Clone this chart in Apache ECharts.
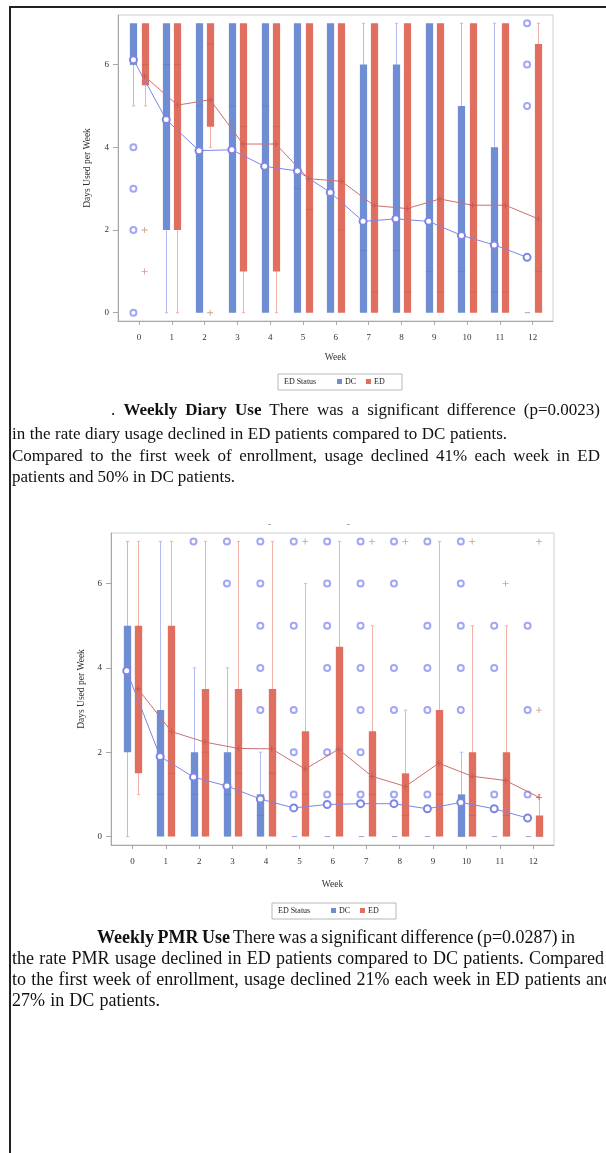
<!DOCTYPE html>
<html><head><meta charset="utf-8">
<script src="https://cdn.jsdelivr.net/npm/echarts@6/dist/echarts.min.js"></script>
<style>
html,body{margin:0;padding:0;background:#fff;overflow:hidden}
#wrap{position:relative;width:606px;height:1153px;overflow:hidden}
#c{position:absolute;left:0;top:0;width:606px;height:1153px}
.ln{position:absolute;white-space:nowrap;font-family:"Liberation Serif","Times New Roman",serif;line-height:22px;color:#111}
.t{font-size:17px}
.b{font-size:18px}
</style>
</head><body><div id="wrap"><div id="c"></div>
<div class="ln t" data-w="489" style="left:111px;top:399px"><span>. <b>Weekly Diary Use</b> There was a significant difference (p=0.0023)</span></div>
<div class="ln t" data-w="495" style="left:12px;top:423px"><span>in the rate diary usage declined in ED patients compared to DC patients.</span></div>
<div class="ln t" data-w="588" style="left:12px;top:445px"><span>Compared to the first week of enrollment, usage declined 41% each week in ED</span></div>
<div class="ln t" data-w="223" style="left:12px;top:466px"><span>patients and 50% in DC patients.</span></div>
<div class="ln b" data-w="478" style="left:97px;top:926px"><span><b>Weekly PMR Use</b> There was a significant difference (p=0.0287) in</span></div>
<div class="ln b" data-w="592" style="left:12px;top:947px"><span>the rate PMR usage declined in ED patients compared to DC patients. Compared</span></div>
<div class="ln b" data-w="600" style="left:12px;top:968px"><span>to the first week of enrollment, usage declined 21% each week in ED patients and</span></div>
<div class="ln b" data-w="148" style="left:12px;top:989px"><span>27% in DC patients.</span></div>
</div>
<script>
const weeks = [0,1,2,3,4,5,6,7,8,9,10,11,12];
const yTicks = [0,2,4,6];
// box stats per week: [min, q1, median, q3, max]
const diaryDC = [[5,6,6,7,7],[0,2,6,7,7],[0,0,5,7,7],[0,0,5,7,7],[0,0,5,7,7],[0,0,3,7,7],[0,0,3,7,7],[0,0,1.5,6,7],[0,0,1.5,6,7],[0,0,1,7,7],[0,0,1,5,7],[0,0,0.5,4,7],[0,0,0,0,0]];
const diaryED = [[5,5.5,6,7,7],[0,2,6,7,7],[4,4.5,6.5,7,7],[0,1,4.5,7,7],[0,1,4.5,7,7],[0,0,2.5,7,7],[0,0,2,7,7],[0,0,0.5,7,7],[0,0,0.5,7,7],[0,0,0.5,7,7],[0,0,0.5,7,7],[0,0,0.5,7,7],[0,0,1,6.5,7]];
const diaryDCMean = [6.12,4.67,3.92,3.94,3.54,3.43,2.91,2.21,2.27,2.21,1.87,1.64,1.34];
const diaryEDMean = [5.72,5.02,5.15,4.08,4.08,3.24,3.18,2.59,2.52,2.75,2.6,2.6,2.27];
const diaryDCOut = [[0,4],[0,3],[0,2],[0,0],[12,7],[12,6],[12,5]];
const diaryEDOut = [[0,2],[0,1],[2,0]];

const pmrDC = [[0,2,4,5,7],[0,0,1,3,7],[0,0,1,2,4],[0,0,1,2,4],[0,0,0.5,1,2],[0,0,0,0,0],[0,0,0,0,0],[0,0,0,0,0],[0,0,0,0,0],[0,0,0,0,0],[0,0,0,1,2],[0,0,0,0,0],[0,0,0,0,0]];
const pmrED = [[1,1.5,3.5,5,7],[0,0,1.5,5,7],[0,0,2,3.5,7],[0,0,1.5,3.5,7],[0,0,1.5,3.5,7],[0,0,1,2.5,6],[0,0,1,4.5,7],[0,0,1,2.5,5],[0,0,0.5,1.5,3],[0,0,1,3,7],[0,0,0.5,2,5],[0,0,0.5,2,5],[0,0,0,0.5,1]];
const pmrDCMean = [3.93,1.90,1.41,1.20,0.89,0.68,0.76,0.78,0.78,0.66,0.81,0.66,0.44];
const pmrEDMean = [3.50,2.49,2.24,2.09,2.08,1.60,2.07,1.43,1.19,1.74,1.43,1.33,0.93];
const pmrDCOut = [[2,7],[3,7],[3,6],[4,7],[4,6],[4,5],[4,4],[4,3],[5,7],[5,5],[5,3],[5,2],[5,1],[6,7],[6,6],[6,5],[6,4],[6,2],[6,1],[7,7],[7,6],[7,5],[7,4],[7,3],[7,2],[7,1],[8,7],[8,6],[8,4],[8,3],[8,1],[9,7],[9,5],[9,4],[9,3],[9,1],[10,7],[10,6],[10,5],[10,4],[10,3],[11,5],[11,4],[11,1],[12,5],[12,3],[12,1]];
const pmrEDOut = [[5,7],[7,7],[8,7],[10,7],[11,6],[12,7],[12,3]];

// justify each text line to its measured width
document.querySelectorAll('.ln').forEach(el=>{
  const sp = el.querySelector('span');
  const target = +el.dataset.w;
  const nat = sp.getBoundingClientRect().width;
  const n = (sp.textContent.match(/ /g)||[]).length;
  if (n>0) el.style.wordSpacing = ((target-nat)/n).toFixed(2)+'px';
});

const OFF = 0.17;
const PLUS = 'path://M4.3 0h1.4v4.3H10v1.4H5.7V10H4.3V5.7H0V4.3h4.3z';
const DCc = {box:'#6f8dd3', whisker:'#b4bcf2', median:'#5b76bd', flat:'#9aa4d8'};
const EDc = {box:'#e06f5f', whisker:'#f2b0a8', median:'#c25848', flat:'#d99'};
const serif = '"Liberation Serif","Times New Roman",serif';

function boxRender(c){
  return function(params, api){
    const x=api.value(0), lo=api.value(1), q1=api.value(2), med=api.value(3), q3=api.value(4), hi=api.value(5);
    const bw=api.size([0.22,0])[0], cw=api.size([0.1,0])[0];
    const pLo=api.coord([x,lo]), pQ1=api.coord([x,q1]), pMed=api.coord([x,med]), pQ3=api.coord([x,q3]), pHi=api.coord([x,hi]);
    const cx=Math.round(pLo[0])+0.5;
    const ch=[];
    if (hi>lo) {
      ch.push({type:'line',shape:{x1:cx,y1:pHi[1],x2:cx,y2:pLo[1]},style:{stroke:c.whisker,lineWidth:1}});
      if (hi>q3) ch.push({type:'line',shape:{x1:cx-cw/2,y1:pHi[1],x2:cx+cw/2,y2:pHi[1]},style:{stroke:c.whisker,lineWidth:1}});
      if (lo<q1) ch.push({type:'line',shape:{x1:cx-cw/2,y1:pLo[1],x2:cx+cw/2,y2:pLo[1]},style:{stroke:c.whisker,lineWidth:1}});
    }
    if (q3>q1) {
      ch.push({type:'rect',shape:{x:cx-bw/2,y:pQ3[1],width:bw,height:pQ1[1]-pQ3[1]},style:{fill:c.box}});
      ch.push({type:'line',shape:{x1:cx-bw/2,y1:pMed[1],x2:cx+bw/2,y2:pMed[1]},style:{stroke:c.median,lineWidth:1,opacity:0.45}});
    } else {
      ch.push({type:'line',shape:{x1:cx-bw/2+1,y1:pQ1[1],x2:cx+bw/2-1,y2:pQ1[1]},style:{stroke:c.flat,lineWidth:1}});
    }
    return {type:'group',children:ch};
  };
}

function seriesFor(g, dcB, edB, dcM, edM, dcO, edO){
  const mk = (arr,off)=>arr.map((s,i)=>[weeks[i]+off].concat(s));
  return [
    {type:'custom',xAxisIndex:g,yAxisIndex:g,renderItem:boxRender(DCc),data:mk(dcB,-OFF),encode:{x:0,y:[1,2,3,4,5]},z:2},
    {type:'custom',xAxisIndex:g,yAxisIndex:g,renderItem:boxRender(EDc),data:mk(edB,OFF),encode:{x:0,y:[1,2,3,4,5]},z:2},
    {type:'scatter',xAxisIndex:g,yAxisIndex:g,data:dcO.map(p=>[p[0]-OFF,p[1]]),symbol:'emptyCircle',symbolSize:6,itemStyle:{color:'#8a90f2',borderWidth:0.9},z:4,silent:true},
    {type:'scatter',xAxisIndex:g,yAxisIndex:g,data:edO.map(p=>[p[0]+OFF,p[1]]),symbol:PLUS,symbolSize:6,itemStyle:{color:'#c9826f'},z:4,silent:true},
    {type:'line',xAxisIndex:g,yAxisIndex:g,data:dcM.map((v,i)=>[weeks[i]-OFF,v]),symbol:'emptyCircle',symbolSize:7,showAllSymbol:true,lineStyle:{color:'#7d86e6',width:1},itemStyle:{color:'#7d86e6',borderWidth:0.9},z:5,silent:true},
    {type:'line',xAxisIndex:g,yAxisIndex:g,data:edM.map((v,i)=>[weeks[i]+OFF,v]),symbol:PLUS,symbolSize:6,showAllSymbol:true,lineStyle:{color:'#cf6f6f',width:1},itemStyle:{color:'#c05a5a'},z:5,silent:true}
  ];
}

function xAx(g, gap){
  return {type:'value',gridIndex:g,min:-0.64,max:12.62,splitLine:{show:false},
    axisLine:{onZero:false,lineStyle:{color:'#a8a8a8'}},
    axisTick:{customValues:weeks,length:4,lineStyle:{color:'#a8a8a8'}},
    axisLabel:{customValues:weeks,margin:12,fontFamily:serif,fontSize:9,color:'#333'},
    name:'Week',nameLocation:'middle',nameGap:gap,nameTextStyle:{fontFamily:serif,fontSize:9.5,color:'#333'}};
}
function yAx(g, gap){
  return {type:'value',gridIndex:g,min:-0.2,max:7.2,splitLine:{show:false},
    axisLine:{show:true,onZero:false,lineStyle:{color:'#a8a8a8'}},
    axisTick:{show:true,customValues:yTicks,length:5,lineStyle:{color:'#a8a8a8'}},
    axisLabel:{customValues:yTicks,margin:9,fontFamily:serif,fontSize:9,color:'#333'},
    name:'Days Used per Week',nameLocation:'middle',nameGap:gap,nameTextStyle:{fontFamily:serif,fontSize:9.5,color:'#333'}};
}

function legend(x,y){
  const t = (tx,px)=>({type:'text',x:px,y:y+8,style:{text:tx,fontFamily:serif,fontSize:8,fill:'#222',verticalAlign:'middle'}});
  return [
    {type:'rect',shape:{x:x,y:y,width:124,height:16},style:{fill:'#fff',stroke:'#b8b8b8',lineWidth:1}},
    t('ED Status',x+6),
    {type:'rect',shape:{x:x+59,y:y+5,width:5,height:5},style:{fill:DCc.box}},
    t('DC',x+67),
    {type:'rect',shape:{x:x+88,y:y+5,width:5,height:5},style:{fill:EDc.box}},
    t('ED',x+96)
  ];
}

const graphics = [
  {type:'rect',shape:{x:9,y:6,width:597,height:2},style:{fill:'#222'}},
  {type:'rect',shape:{x:9,y:6,width:2,height:1147},style:{fill:'#222'}},
  {type:'rect',shape:{x:268,y:524,width:3,height:1},style:{fill:'#aaa'}},
  {type:'rect',shape:{x:347,y:524,width:3,height:1},style:{fill:'#aaa'}},
  ...legend(278,374),
  ...legend(272,903)
];

const chart = echarts.init(document.getElementById('c'));
chart.setOption({
  animation:false,
  backgroundColor:'#fff',
  grid:[
    {left:118,top:15,width:435,height:306,show:true,borderColor:'#cfcfcf',borderWidth:1,backgroundColor:'#fff'},
    {left:111,top:533,width:443,height:312,show:true,borderColor:'#cfcfcf',borderWidth:1,backgroundColor:'#fff'}
  ],
  xAxis:[xAx(0,31),xAx(1,34)],
  yAxis:[yAx(0,26),yAx(1,24)],
  series:[].concat(
    seriesFor(0,diaryDC,diaryED,diaryDCMean,diaryEDMean,diaryDCOut,diaryEDOut),
    seriesFor(1,pmrDC,pmrED,pmrDCMean,pmrEDMean,pmrDCOut,pmrEDOut)
  ),
  graphic:graphics
});
</script></body></html>
